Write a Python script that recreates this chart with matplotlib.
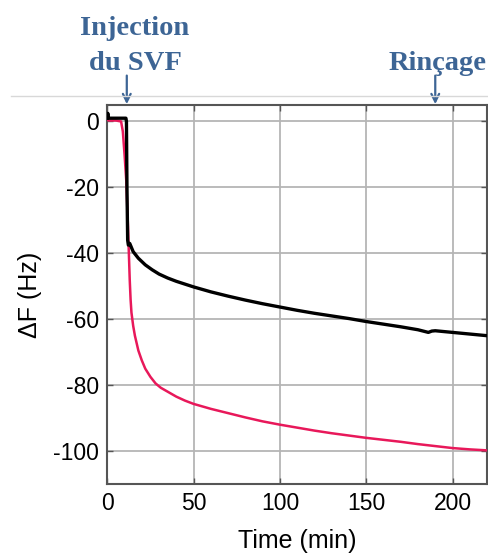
import matplotlib
matplotlib.use("Agg")
import matplotlib.pyplot as plt

# ---- data ----
t_black = [0, 0.3, 0.6, 1, 5, 10.8, 11.1, 11.4, 11.8, 12.2, 13, 15, 18, 22, 26, 30, 35, 40,
           50, 60, 70, 80, 90, 100, 110, 120, 130, 140, 150, 160, 170, 180, 186, 188, 190,
           200, 210, 220]
f_black = [1, 2.5, 1, 1, 1, 1, 0, -20, -36, -37.5, -37, -39.5, -41.5, -43.5, -45, -46.3, -47.5,
           -48.5, -50.2, -51.7, -53, -54.2, -55.3, -56.3, -57.3, -58.2, -59, -59.8, -60.7,
           -61.5, -62.3, -63.2, -64.0, -63.6, -63.5, -64, -64.5, -65]

t_red = [0, 1, 5, 8, 9, 10, 11, 11.5, 12, 12.5, 13, 13.5, 14, 15, 16, 18, 20, 22, 25, 28, 31,
         35, 40, 45, 50, 60, 70, 80, 90, 100, 110, 120, 130, 140, 150, 160, 170, 180, 190,
         200, 210, 220]
f_red = [0.5, 0.3, 0.3, 0, -3, -10, -18, -25, -32, -40, -48, -54, -58, -62, -65, -69.5, -72.5,
         -75, -77.5, -79.5, -80.8, -82, -83.5, -84.7, -85.7, -87.2, -88.5, -89.8, -91, -92,
         -92.9, -93.8, -94.6, -95.3, -96, -96.6, -97.2, -97.9, -98.5, -99.1, -99.5, -99.8]

x_ticks = [0, 50, 100, 150, 200]
y_ticks = [0, -20, -40, -60, -80, -100]
t_injection = 11.3
t_rincage = 190

plt.rcParams['font.family'] = ['Liberation Sans', 'DejaVu Sans']
plt.rcParams['axes.unicode_minus'] = False

fig = plt.figure(figsize=(4.89, 5.53), dpi=100)
ax = fig.add_axes([0.2194, 0.1248, 0.7766, 0.6853])

ax.plot(t_red, f_red, color='#e8185a', lw=1.8, zorder=3)
ax.plot(t_black, f_black, color='black', lw=2.4, zorder=4)

ax.set_xlim(0, 220)
ax.set_ylim(-110, 5)
ax.set_xticks(x_ticks)
ax.set_yticks(y_ticks)
ax.grid(True, color='#b5b5b5', lw=1.3)
ax.set_axisbelow(True)
for s in ax.spines.values():
    s.set_color('#555555')
    s.set_linewidth(1.5)
ax.tick_params(direction='in', length=4, width=1, colors='#555555', labelcolor='black',
               labelsize=16.5, top=True, right=True, pad=6)
ax.set_xlabel('Time (min)', fontsize=18, labelpad=10)
ax.set_ylabel('ΔF (Hz)', fontsize=18, labelpad=8)

# thin separator line
fig.add_artist(plt.Line2D([0.022, 1.0], [0.8264, 0.8264], color='#d8d8d8', lw=1,
                          transform=fig.transFigure))

blue = '#3d6595'
fig.text(0.276, 0.937, 'Injection', ha='center', va='baseline', fontsize=20.5,
         fontweight='bold', family='Liberation Serif', color=blue)
fig.text(0.276, 0.874, 'du SVF', ha='center', va='baseline', fontsize=20.5,
         fontweight='bold', family='Liberation Serif', color=blue)
fig.text(0.895, 0.874, 'Rinçage', ha='center', va='baseline', fontsize=20.5,
         fontweight='bold', family='Liberation Serif', color=blue)

for tx in (t_injection, t_rincage):
    ax.annotate('', xy=(tx, 0.995), xycoords=('data', 'axes fraction'),
                xytext=(tx, 1.085), textcoords=('data', 'axes fraction'),
                arrowprops=dict(arrowstyle='->', color=blue, lw=1.6,
                                mutation_scale=14),
                annotation_clip=False)

fig.savefig('out.png', dpi=100)
